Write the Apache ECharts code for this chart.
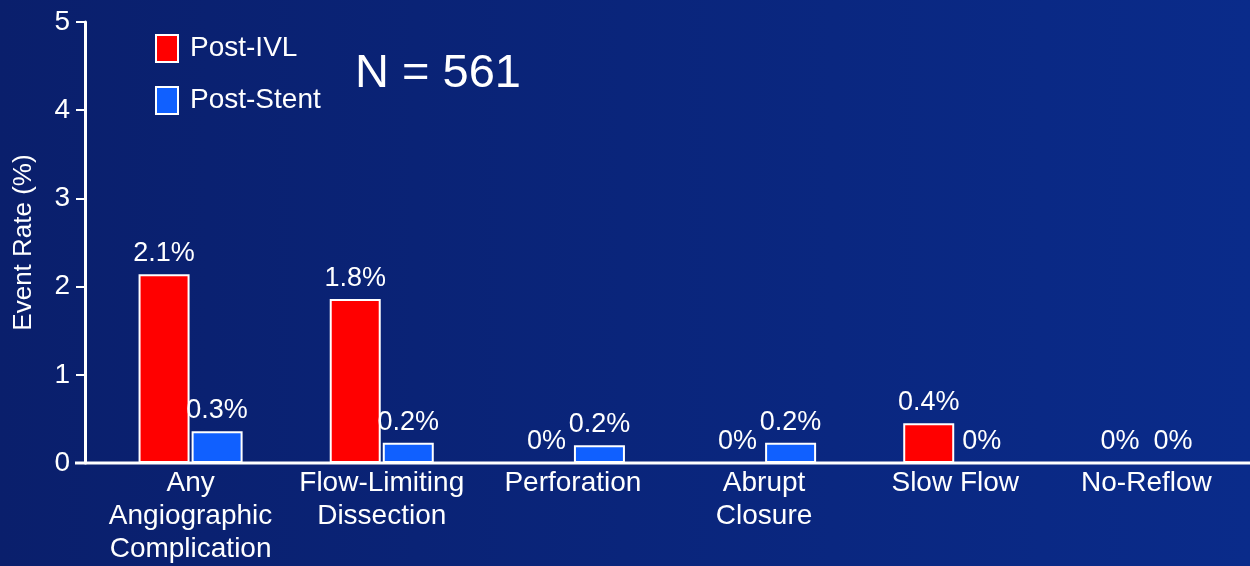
<!DOCTYPE html>
<html>
<head>
<meta charset="utf-8">
<script src="https://cdn.jsdelivr.net/npm/echarts@6/dist/echarts.min.js"></script>
<style>
html,body{margin:0;padding:0;}
#c{width:1250px;height:566px;}
</style>
</head>
<body>
<div id="c"></div>
<script>
const categories = ['Any\nAngiographic\nComplication', 'Flow-Limiting\nDissection', 'Perforation', 'Abrupt\nClosure', 'Slow Flow', 'No-Reflow'];
const postIVL = [2.14, 1.86, 0, 0, 0.45, 0];
const postStent = [0.36, 0.23, 0.2, 0.23, 0, 0];
const postIVLLabels = ['2.1%', '1.8%', '0%', '0%', '0.4%', '0%'];
const postStentLabels = ['0.3%', '0.2%', '0.2%', '0.2%', '0%', '0%'];
const yTicks = [0, 1, 2, 3, 4, 5];

const font = '"Liberation Sans", Arial, sans-serif';
const chart = echarts.init(document.getElementById('c'));
const labelStyle = (texts) => ({
  show: true, position: 'top', distance: 7, color: '#fff', fontSize: 27, fontFamily: font,
  formatter: p => texts[p.dataIndex]
});
chart.setOption({
  backgroundColor: {
    type: 'linear', x: 0, y: 0, x2: 1, y2: 0,
    colorStops: [{offset: 0, color: '#0a1f6c'}, {offset: 1, color: '#0a2b8a'}]
  },
  animation: false,
  textStyle: {fontFamily: font},
  title: {
    text: 'N = 561', left: 350, top: 46,
    textStyle: {color: '#fff', fontSize: 47, fontWeight: 'normal', fontFamily: font}
  },
  legend: {
    orient: 'vertical', left: 155, top: 34, itemWidth: 22, itemHeight: 27, itemGap: 23,
    icon: 'rect',
    itemStyle: {borderColor: '#fff', borderWidth: 2},
    textStyle: {color: '#fff', fontSize: 28, fontFamily: font, padding: [0, 0, 0, 7]},
    padding: [0, 0, 0, 0],
    data: ['Post-IVL', 'Post-Stent']
  },
  grid: {left: 95, right: 8, top: 22, bottom: 103, outerBoundsMode: 'none', containLabel: false},
  xAxis: {
    type: 'category', data: categories,
    axisLine: {show: false},
    axisTick: {show: false},
    axisLabel: {color: '#fff', fontSize: 28, fontFamily: font, lineHeight: 33, margin: 4, interval: 0}
  },
  yAxis: {
    type: 'value', min: 0, max: 5, interval: 1, offset: 10,
    name: 'Event Rate (%)', nameLocation: 'middle', nameGap: 48, nameRotate: 90,
    nameTextStyle: {color: '#fff', fontSize: 26, fontFamily: font},
    axisLine: {show: true, lineStyle: {color: '#fff', width: 3}},
    axisTick: {show: true, length: 9, lineStyle: {color: '#fff', width: 2}},
    axisLabel: {color: '#fff', fontSize: 28, fontFamily: font, margin: 15,
      formatter: v => yTicks.includes(v) ? String(v) : ''},
    splitLine: {show: false}
  },
  series: [
    {name: 'Post-IVL', type: 'bar', data: postIVL, barWidth: 51, barGap: '4%',
     itemStyle: {color: '#ff0000', borderColor: '#ffffff', borderWidth: 2},
     label: labelStyle(postIVLLabels)},
    {name: 'Post-Stent', type: 'bar', data: postStent, barWidth: 51,
     itemStyle: {color: '#1060ff', borderColor: '#ffffff', borderWidth: 2},
     label: labelStyle(postStentLabels)}
  ]
});
const y0 = chart.convertToPixel({yAxisIndex: 0}, 0);
chart.setOption({
  graphic: [{type: 'line', shape: {x1: 75, y1: y0, x2: 1250, y2: y0}, style: {stroke: '#fff', lineWidth: 3}, z: 10}]
});
</script>
</body>
</html>
